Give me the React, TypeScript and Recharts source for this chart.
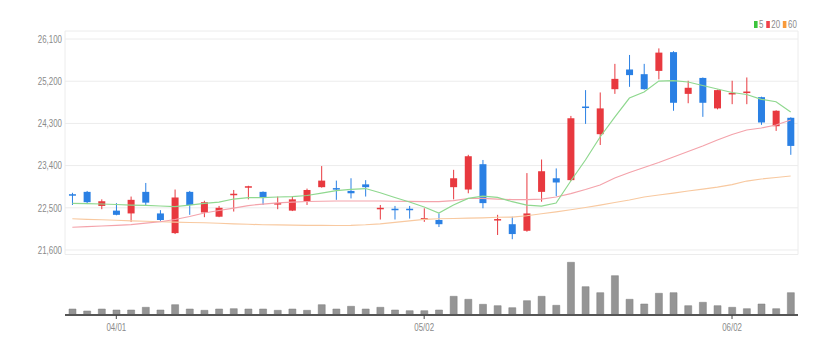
import React from 'react';
import { ComposedChart, Bar, Line, XAxis, YAxis, CartesianGrid } from 'recharts';

const dates = ['03/27','03/28','03/29','04/01','04/02','04/03','04/04','04/05','04/08','04/09','04/11','04/12','04/15','04/16','04/17','04/18','04/19','04/22','04/23','04/24','04/25','04/26','04/29','04/30','05/02','05/03','05/06','05/07','05/08','05/09','05/10','05/13','05/14','05/16','05/17','05/20','05/21','05/22','05/23','05/24','05/27','05/28','05/29','05/30','05/31','06/02','06/03','06/04','06/05','06/07'];
const opens = [22790,22840,22540,22440,22380,22840,22380,21960,22840,22400,22310,22770,22930,22840,22570,22440,22640,22940,22920,22860,23000,22480,22480,22480,22260,22240,22940,22890,23430,22240,22150,22010,22840,23130,23090,24660,24070,25030,25450,25350,25420,25820,24930,25270,24620,24930,24960,24860,24240,24420];
const highs = [22820,22860,22680,22600,22740,23030,22450,22890,22860,22650,22540,22880,22970,22850,22740,22740,22910,23390,23080,23130,23090,22560,22540,22540,22490,22380,23310,23630,23520,22350,22310,23240,23530,23340,24460,25010,24960,25570,25760,25570,25900,25840,25210,25280,25020,25210,25280,24870,24580,24430];
const lows = [22560,22580,22470,22340,22200,22560,22220,21940,22350,22300,22300,22420,22680,22560,22470,22430,22560,22930,22670,22700,22740,22250,22250,22270,22200,22090,22680,22810,22490,21920,21830,21990,22630,22750,23070,24290,23840,24930,25080,25020,25240,24570,24730,24440,24600,24710,24710,24270,24140,23630];
const closes = [22770,22620,22640,22350,22670,22610,22240,22720,22560,22620,22500,22800,22960,22710,22600,22680,22880,23080,22900,22810,22940,22500,22450,22450,22280,22150,23130,23600,22600,22260,21940,22380,23280,23040,24410,24640,24620,25250,25330,25030,25810,24740,25060,24740,25010,24950,24980,24320,24570,23820];
const ma5 = [22595,22591,22581,22570,22559,22553,22538,22527,22559,22595,22623,22687,22719,22719,22730,22740,22762,22815,22868,22894,22911,22822,22719,22623,22517,22389,22559,22702,22751,22723,22630,22559,22538,22602,23071,23519,24010,24436,24841,24970,25204,25211,25183,25108,25034,24959,24916,24814,24763,24543];
const ma20 = [22085,22100,22112,22125,22142,22172,22203,22250,22314,22389,22442,22495,22548,22580,22606,22623,22634,22640,22645,22645,22645,22645,22640,22636,22632,22630,22655,22698,22702,22687,22676,22676,22687,22730,22804,22890,22986,23135,23252,23359,23466,23583,23700,23818,23946,24063,24159,24202,24266,24372];
const ma60 = [22266,22255,22245,22234,22223,22213,22202,22196,22187,22181,22170,22159,22149,22138,22134,22130,22127,22125,22123,22125,22138,22159,22191,22223,22255,22266,22272,22281,22287,22298,22303,22330,22373,22415,22458,22506,22559,22613,22666,22730,22773,22815,22858,22900,22943,22996,23071,23114,23146,23178];
const volumes = [60,40,60,50,50,77,50,103,60,47,60,63,60,60,47,60,47,103,60,87,60,77,50,43,43,50,187,157,107,93,73,143,187,97,527,283,223,393,157,110,217,223,93,127,93,77,63,110,63,223];
const priceTicks = [21600,22500,23400,24300,25200,26100];
const dateTicks = ['04/01','05/02','06/02'];

const RED = '#e8393f';
const BLUE = '#2a80e4';

const data = dates.map((date, i) => ({
  date,
  open: opens[i],
  high: highs[i],
  low: lows[i],
  close: closes[i],
  range: [lows[i], highs[i]],
  ma5: ma5[i],
  ma20: ma20[i],
  ma60: ma60[i],
  volume: volumes[i],
}));

const Candle = (props: any) => {
  const { x, y, width, height, payload } = props;
  if (!payload) return null;
  const { open, close, high, low } = payload;
  const color = close >= open ? RED : BLUE;
  const top = Math.min(y, y + height);
  const h = Math.abs(height);
  const ratio = h / (high - low || 1);
  const cx = x + width / 2;
  const bodyTop = top + (high - Math.max(open, close)) * ratio;
  const bodyH = Math.max(Math.abs(open - close) * ratio, 1.5);
  return (
    <g>
      <line x1={cx} x2={cx} y1={top} y2={top + h} stroke={color} strokeWidth={1} />
      <rect x={cx - 3.5} y={bodyTop} width={7} height={bodyH} fill={color} />
    </g>
  );
};

const YTick = (props: any) => {
  const { x, y, payload } = props;
  return (
    <text
      transform={`translate(${x},${y}) scale(0.72,1)`}
      textAnchor="end"
      dy="0.35em"
      fill="#8a8a8a"
      fontSize={11}
      fontFamily="'Liberation Sans Narrow', 'Liberation Sans', sans-serif"
    >
      {Number(payload.value).toLocaleString('en-US')}
    </text>
  );
};

const XTick = (props: any) => {
  const { x, y, payload } = props;
  return (
    <text
      transform={`translate(${x},${y}) scale(0.72,1)`}
      textAnchor="middle"
      dy="0.85em"
      fill="#8a8a8a"
      fontSize={11}
      fontFamily="'Liberation Sans Narrow', 'Liberation Sans', sans-serif"
    >
      {payload.value}
    </text>
  );
};

const legendItems = [
  { label: '5', color: '#3cc43c' },
  { label: '20', color: '#f0404a' },
  { label: '60', color: '#f89a3a' },
];

export default function App() {
  return (
    <div style={{ position: 'absolute', left: 0, top: 0, width: 840, height: 353, background: '#fff', overflow: 'hidden' }}>
      <div style={{ position: 'absolute', left: 0, top: 0 }}>
        <ComposedChart width={840} height={260} data={data} margin={{ top: 31, right: 42, bottom: 5.5, left: 0 }}>
          <CartesianGrid stroke="#ececec" strokeWidth={1} />
          <XAxis dataKey="date" ticks={dateTicks} interval={0} height={0} tick={false} tickLine={false} axisLine={{ stroke: '#222', strokeWidth: 2 }} />
          <YAxis
            width={65}
            domain={[21504, 26271]}
            ticks={priceTicks}
            type="number"
            allowDataOverflow
            tickLine={false}
            axisLine={false}
            tickSize={0}
            tickMargin={3}
            tick={<YTick />}
          />
          <Line dataKey="ma60" stroke="#f8c9a0" strokeWidth={1.2} dot={false} isAnimationActive={false} />
          <Line dataKey="ma20" stroke="#f4a3ab" strokeWidth={1.2} dot={false} isAnimationActive={false} />
          <Line dataKey="ma5" stroke="#8fd88f" strokeWidth={1.2} dot={false} isAnimationActive={false} />
          <Bar dataKey="range" shape={<Candle />} isAnimationActive={false} />
        </ComposedChart>
      </div>
      <div style={{ position: 'absolute', left: 0, top: 255 }}>
        <ComposedChart width={840} height={98} data={data} margin={{ top: 4, right: 42, bottom: 0, left: 65 }}>
          <XAxis
            dataKey="date"
            ticks={dateTicks}
            interval={0}
            height={38}
            tickSize={4}
            tickMargin={3}
            tickLine={{ stroke: '#444' }}
            axisLine={{ stroke: '#555', strokeWidth: 2 }}
            tick={<XTick />}
          />
          <YAxis hide domain={[0, 560]} type="number" />
          <Bar dataKey="volume" fill="#959595" stroke="#7d7d7d" strokeWidth={0.5} barSize={7} isAnimationActive={false} />
        </ComposedChart>
      </div>
      <div
        style={{
          position: 'absolute',
          left: 754,
          top: 18,
          display: 'flex',
          alignItems: 'center',
          fontFamily: "'Liberation Sans Narrow', 'Liberation Sans', sans-serif",
          fontSize: 11,
          color: '#8a8a8a',
          transform: 'scale(0.72,1)',
          transformOrigin: 'left center',
          lineHeight: '12px',
        }}
      >
        {legendItems.map((it) => (
          <span key={it.label} style={{ display: 'flex', alignItems: 'center', marginRight: 4 }}>
            <span style={{ display: 'inline-block', width: 5, height: 7, background: it.color, marginRight: 2 }} />
            {it.label}
          </span>
        ))}
      </div>
    </div>
  );
}
